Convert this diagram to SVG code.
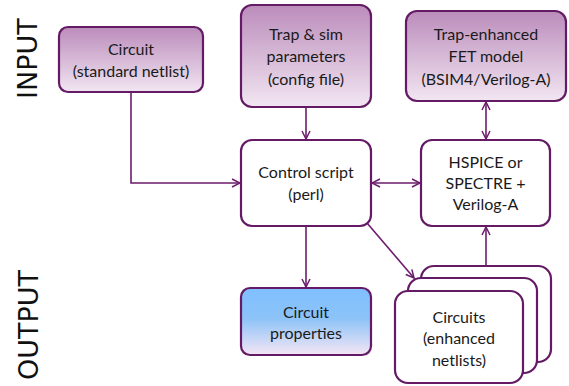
<svg xmlns="http://www.w3.org/2000/svg" width="569" height="386" viewBox="0 0 569 386">
  <defs>
    <linearGradient id="gPurple" x1="0" y1="0" x2="0" y2="1">
      <stop offset="0" stop-color="#bb8cbb"/>
      <stop offset="1" stop-color="#f2e6f2"/>
    </linearGradient>
    <linearGradient id="gBlue" x1="0" y1="0" x2="0" y2="1">
      <stop offset="0" stop-color="#7fbfff"/>
      <stop offset="0.45" stop-color="#8cc3f8"/>
      <stop offset="1" stop-color="#f5e6f5"/>
    </linearGradient>
    <marker id="arr" viewBox="0 0 10 10" refX="9" refY="5" markerWidth="10" markerHeight="10" markerUnits="userSpaceOnUse" orient="auto-start-reverse">
      <path d="M1,1 L9,5 L1,9" fill="none" stroke="#6b1d6b" stroke-width="1.5"/>
    </marker>
  </defs>
  <style>
    .box { stroke: #641a64; stroke-width: 2.2; }
    .in { fill: url(#gPurple); }
    .plain { fill: #ffffff; }
    .out { fill: url(#gBlue); }
    .lbl { font-family: Lato, "Open Sans", sans-serif; font-size: 16px; fill: #1a1a1a; text-anchor: middle; }
    .side { font-family: "DejaVu Sans", sans-serif; font-size: 27px; fill: #111111; }
    .conn { fill: none; stroke: #6b1d6b; stroke-width: 1.6; }
  </style>

  <rect width="569" height="386" fill="#ffffff"/>

  <text class="side" transform="translate(37,99) rotate(-90)">INPUT</text>
  <text class="side" transform="translate(38,380) rotate(-90)">OUTPUT</text>

  <g id="connectors">
    <path class="conn" d="M131,92 V183 H240" marker-end="url(#arr)"/>
    <path class="conn" d="M306,107 V139" marker-end="url(#arr)"/>
    <path class="conn" d="M486,102 V139" marker-start="url(#arr)" marker-end="url(#arr)"/>
    <path class="conn" d="M372,183 H420" marker-start="url(#arr)" marker-end="url(#arr)"/>
    <path class="conn" d="M306,226 V287" marker-end="url(#arr)"/>
    <path class="conn" d="M367,223 L414,278" marker-end="url(#arr)"/>
    <path class="conn" d="M486,266 V227" marker-end="url(#arr)"/>
  </g>

  <g id="circuit">
    <rect class="box in" x="59" y="27" width="144" height="65" rx="9"/>
    <text class="lbl" x="131" y="55">Circuit</text>
    <text class="lbl" x="131" y="77">(standard netlist)</text>
  </g>

  <g id="trap-sim">
    <rect class="box in" x="241" y="5" width="130" height="102" rx="11"/>
    <text class="lbl" x="306" y="40">Trap &amp; sim</text>
    <text class="lbl" x="306" y="62">parameters</text>
    <text class="lbl" x="306" y="85">(config file)</text>
  </g>

  <g id="fet-model">
    <rect class="box in" x="406" y="11" width="160" height="90" rx="11"/>
    <text class="lbl" x="486" y="40">Trap-enhanced</text>
    <text class="lbl" x="486" y="62">FET model</text>
    <text class="lbl" x="486" y="85">(BSIM4/Verilog-A)</text>
  </g>

  <g id="control">
    <rect class="box plain" x="241" y="140" width="130" height="86" rx="11"/>
    <text class="lbl" x="306" y="178">Control script</text>
    <text class="lbl" x="306" y="200">(perl)</text>
  </g>

  <g id="simulator">
    <rect class="box plain" x="421" y="140" width="129" height="86" rx="11"/>
    <text class="lbl" x="485.5" y="168">HSPICE or</text>
    <text class="lbl" x="485.5" y="189">SPECTRE +</text>
    <text class="lbl" x="485.5" y="210">Verilog-A</text>
  </g>

  <g id="properties">
    <rect class="box out" x="241" y="288" width="130" height="67" rx="9"/>
    <text class="lbl" x="306" y="318">Circuit</text>
    <text class="lbl" x="306" y="339">properties</text>
  </g>

  <g id="netlists">
    <rect class="box plain" x="421" y="266" width="130" height="96" rx="13"/>
    <rect class="box plain" x="408" y="278" width="129" height="95" rx="13"/>
    <rect class="box plain" x="395" y="291" width="128" height="92" rx="13"/>
    <text class="lbl" x="459" y="323">Circuits</text>
    <text class="lbl" x="459" y="344">(enhanced</text>
    <text class="lbl" x="459" y="366">netlists)</text>
  </g>
</svg>
